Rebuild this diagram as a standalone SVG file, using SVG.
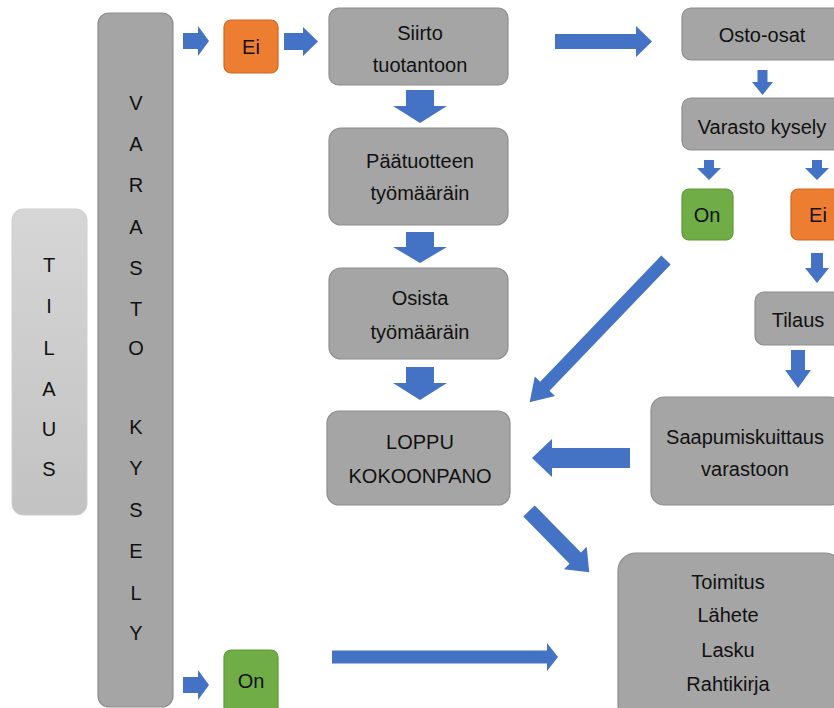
<svg xmlns="http://www.w3.org/2000/svg" width="834" height="708" viewBox="0 0 834 708">
<defs>
<linearGradient id="lg" x1="0" y1="0" x2="0" y2="1">
<stop offset="0" stop-color="#d6d6d6"/>
<stop offset="1" stop-color="#c2c2c2"/>
</linearGradient>
<style>
.box{fill:#a5a5a5;stroke:#8e8e8e;stroke-width:1.2}
.lt{fill:url(#lg);stroke:#cfcfcf;stroke-width:1}
.grn{fill:#70ad47;stroke:#5b9a35;stroke-width:1.2}
.org{fill:#ed7d31;stroke:#d0681f;stroke-width:1.2}
text{font-family:"Liberation Sans","Open Sans",sans-serif;font-size:20px;fill:#111111;text-anchor:middle;dominant-baseline:central}
.arr{fill:#4472c4}
</style>
</defs>
<rect width="834" height="708" fill="#ffffff"/>

<g id="tilaus">
<rect class="lt" x="12" y="209" width="75" height="306" rx="11"/>
<text x="49" y="265">T</text><text x="49" y="306">I</text><text x="49" y="348">L</text><text x="49" y="389">A</text><text x="49" y="429">U</text><text x="49" y="469">S</text>
</g>

<g id="varasto-kysely">
<rect class="box" x="98" y="13" width="75" height="694" rx="11"/>
<text x="136" y="103">V</text><text x="136" y="144">A</text><text x="136" y="185">R</text><text x="136" y="227">A</text><text x="136" y="268">S</text><text x="136" y="309">T</text><text x="136" y="348">O</text>
<text x="136" y="427">K</text><text x="136" y="468">Y</text><text x="136" y="510">S</text><text x="136" y="551">E</text><text x="136" y="593">L</text><text x="136" y="633">Y</text>
</g>

<g id="ei-top"><rect class="org" x="224" y="20" width="54" height="53" rx="7"/><text x="251" y="47">Ei</text></g>
<g id="on-bottom"><rect class="grn" x="224" y="650" width="54" height="70" rx="7"/><text x="251" y="681">On</text></g>

<g id="siirto"><rect class="box" x="329" y="8" width="179" height="77" rx="10"/><text x="420" y="33">Siirto</text><text x="420" y="65">tuotantoon</text></g>
<g id="paatuotteen"><rect class="box" x="329" y="128" width="179" height="97" rx="12"/><text x="420" y="161">Päätuotteen</text><text x="420" y="193">työmääräin</text></g>
<g id="osista"><rect class="box" x="329" y="268" width="179" height="91" rx="12"/><text x="420" y="298">Osista</text><text x="420" y="332">työmääräin</text></g>
<g id="loppu"><rect class="box" x="327" y="411" width="183" height="94" rx="12"/><text x="420" y="442">LOPPU</text><text x="420" y="476">KOKOONPANO</text></g>

<g id="osto-osat"><rect class="box" x="682" y="8" width="162" height="52" rx="9"/><text x="762" y="35">Osto-osat</text></g>
<g id="varasto-kysely-2"><rect class="box" x="682" y="98" width="162" height="52" rx="9"/><text x="762" y="127">Varasto kysely</text></g>
<g id="on-right"><rect class="grn" x="682" y="189" width="51" height="51" rx="7"/><text x="707" y="215">On</text></g>
<g id="ei-right"><rect class="org" x="791" y="189" width="55" height="51" rx="7"/><text x="818" y="215">Ei</text></g>
<g id="tilaus-2"><rect class="box" x="755" y="292" width="90" height="53" rx="9"/><text x="798" y="320">Tilaus</text></g>
<g id="saapumis"><rect class="box" x="651" y="397" width="192" height="108" rx="13"/><text x="745" y="437">Saapumiskuittaus</text><text x="745" y="469">varastoon</text></g>
<g id="toimitus"><rect class="box" x="618" y="553" width="225" height="170" rx="18"/><text x="728" y="582">Toimitus</text><text x="728" y="615">Lähete</text><text x="728" y="650">Lasku</text><text x="728" y="684">Rahtikirja</text></g>

<g id="connectors" class="arr">
<polygon points="183,33 198,33 198,26 209,41 198,56 198,49 183,49"/>
<polygon points="284,33 303,33 303,27 318,41.5 303,56 303,50 284,50"/>
<polygon points="555,34 636,34 636,26 652,41.5 636,57 636,49 555,49"/>
<polygon points="183,677 198,677 198,670 209,685 198,700 198,693 183,693"/>
<polygon points="332,650.5 547,650.5 547,643 558,657 547,671 547,663.5 332,663.5"/>
<polygon points="630,448 552,448 552,439 532,458 552,477 552,468 630,468"/>
<polygon points="406,90 434,90 434,106 447,106 420,123 393,106 406,106"/>
<polygon points="406,232 434,232 434,247 447,247 420,263 393,247 406,247"/>
<polygon points="406,367 434,367 434,383 447,383 420,400 393,383 406,383"/>
<polygon points="757.5,70 767.5,70 767.5,82 773,82 762.5,95 752,82 757.5,82"/>
<polygon points="704,160 714,160 714,168 721,168 709,180 697,168 704,168"/>
<polygon points="812,160 822,160 822,168 829,168 817,180 805,168 812,168"/>
<polygon points="811,253 823,253 823,268 829,268 817,283 805,268 811,268"/>
<polygon points="791,350 805,350 805,370 811,370 798,388 785,370 791,370"/>
<polygon transform="translate(666,260) rotate(133.8)" points="0,-6.5 175,-6.5 175,-14 197,0 175,14 175,6.5 0,6.5"/>
<polygon transform="translate(529,511) rotate(45.5)" points="0,-8 66,-8 66,-16 86,0 66,16 66,8 0,8"/>
</g>
</svg>
